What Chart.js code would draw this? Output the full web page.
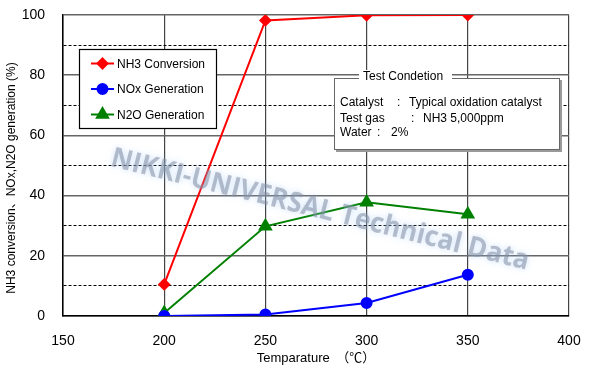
<!DOCTYPE html>
<html>
<head>
<meta charset="utf-8">
<script src="https://cdn.jsdelivr.net/npm/chart.js@4.4.0/dist/chart.umd.min.js"></script>
<style>
  html, body { margin: 0; padding: 0; background: #fff; }
</style>
</head>
<body>
<canvas id="my-chart" width="590" height="375"></canvas>
<script>

let temperatures = [200, 250, 300, 350];
let nh3Conversion = [10.5, 98.2, 99.9, 100];
let noxGeneration = [0, 0.5, 4.3, 13.7];
let n2oGeneration = [1, 29.8, 37.8, 33.8];
let seriesNames = ['NH3 Conversion', 'NOx Generation', 'N2O Generation'];
let yLabelValues = [0, 20, 40, 60, 80, 100];
let xTitle = 'Temparature　（℃）';
let yTitle = 'NH3 conversion、NOx,N2O generation (%)';
let conditionTitle = 'Test Condetion';
let conditionRows = [
    ['Catalyst', ':', 'Typical oxidation catalyst'],
    ['Test gas', ':', 'NH3 5,000ppm'],
    ['Water', ':', '2%']
];
let watermark = 'NIKKI-UNIVERSAL Technical Data';

const FONT = '"Liberation Sans", "Noto Sans CJK JP", sans-serif';

function toPoints(values) {
    let pts = [];
    for (let i = 0; i < temperatures.length; i++) {
        pts.push({ x: temperatures[i], y: values[i] });
    }
    return pts;
}

// legend box, condition box, y title and the watermark
const extras = {
    id: 'extras',
    afterDraw(chart) {
        let ctx = chart.ctx;
        ctx.save();

        // legend inside the plot
        ctx.fillStyle = '#fff';
        ctx.fillRect(79.5, 49.5, 137, 79);
        ctx.strokeStyle = '#000';
        ctx.lineWidth = 1.2;
        ctx.strokeRect(79.5, 49.5, 137, 79);
        chart.data.datasets.forEach((ds, i) => {
            let y = 63.5 + i * 25.5;
            ctx.strokeStyle = ds.borderColor;
            ctx.lineWidth = 2;
            ctx.beginPath();
            ctx.moveTo(91, y);
            ctx.lineTo(114, y);
            ctx.stroke();
            ctx.fillStyle = ds.pointBackgroundColor;
            ctx.strokeStyle = ds.pointBorderColor;
            Chart.helpers.drawPoint(ctx, {
                pointStyle: ds.pointStyle, radius: ds.pointRadius, rotation: 0, borderWidth: 1
            }, 102.5, y);
            ctx.fillStyle = '#000';
            ctx.font = '12px ' + FONT;
            ctx.textBaseline = 'middle';
            ctx.textAlign = 'left';
            ctx.fillText(ds.label, 117, y + 1);
        });

        // test condition box
        ctx.fillStyle = '#9a9a9a';
        ctx.fillRect(336, 80, 226, 72);
        ctx.fillStyle = '#fff';
        ctx.fillRect(334.5, 78.5, 225, 71);
        ctx.strokeStyle = '#666';
        ctx.lineWidth = 1;
        ctx.strokeRect(334.5, 78.5, 225, 71);
        ctx.fillStyle = '#fff';
        ctx.fillRect(359, 70, 93, 10);
        ctx.fillStyle = '#000';
        ctx.font = '12px ' + FONT;
        ctx.textBaseline = 'middle';
        ctx.fillText(conditionTitle, 363, 77);
        let colonX = [397, 411, 377];
        let valueX = [409, 423, 391];
        let rowY = [103, 118.5, 133];
        conditionRows.forEach((row, i) => {
            ctx.fillText(row[0], 340, rowY[i]);
            ctx.fillText(row[1], colonX[i], rowY[i]);
            ctx.fillText(row[2], valueX[i], rowY[i]);
        });

        // y axis title
        ctx.save();
        ctx.translate(12, 178);
        ctx.rotate(-Math.PI / 2);
        ctx.textAlign = 'center';
        ctx.font = '12px ' + FONT;
        ctx.fillText(yTitle, 0, 0);
        ctx.restore();

        // watermark, squeezed sideways to fit its span
        ctx.save();
        ctx.translate(320, 210);
        ctx.rotate(14 * Math.PI / 180);
        ctx.font = 'bold 28px "Open Sans", sans-serif';
        let w = ctx.measureText(watermark).width;
        ctx.scale(430 / w, 1);
        ctx.textAlign = 'center';
        ctx.textBaseline = 'middle';
        ctx.shadowColor = 'rgba(160,200,245,0.95)';
        ctx.shadowBlur = 6;
        ctx.fillStyle = 'rgba(130,140,160,0.55)';
        ctx.fillText(watermark, 0, 0);
        ctx.restore();

        ctx.restore();
    }
};

let ctx = document.getElementById('my-chart').getContext('2d');
let myChart = new Chart(ctx, {
    type: 'line',
    data: {
        datasets: [{
            label: seriesNames[0],
            data: toPoints(nh3Conversion),
            borderColor: '#ff0000',
            backgroundColor: '#ff0000',
            pointBackgroundColor: '#ff0000',
            pointBorderColor: '#ff0000',
            pointStyle: 'rectRot',
            pointRadius: 5,
            borderWidth: 2
        }, {
            label: seriesNames[1],
            data: toPoints(noxGeneration),
            borderColor: '#0000ff',
            backgroundColor: '#0000ff',
            pointBackgroundColor: '#0000ff',
            pointBorderColor: '#0000ff',
            pointStyle: 'circle',
            pointRadius: 5,
            borderWidth: 2
        }, {
            label: seriesNames[2],
            data: toPoints(n2oGeneration),
            borderColor: '#008000',
            backgroundColor: '#008000',
            pointBackgroundColor: '#008000',
            pointBorderColor: '#008000',
            pointStyle: 'triangle',
            pointRadius: 6.5,
            borderWidth: 2
        }]
    },
    options: {
        responsive: false,
        animation: false,
        layout: { padding: { top: 15, right: 21, bottom: 0, left: 0 } },
        plugins: {
            legend: { display: false },
            tooltip: { enabled: false }
        },
        scales: {
            x: {
                type: 'linear',
                min: 150,
                max: 400,
                afterFit: (scale) => {
                    scale.height = 59;
                    scale.paddingLeft = 0;
                    scale.paddingRight = 0;
                },
                ticks: {
                    stepSize: 50,
                    color: '#000',
                    padding: 17,
                    maxRotation: 0,
                    font: { size: 14, family: FONT }
                },
                grid: { color: '#444', lineWidth: 1.2, drawTicks: false, tickLength: 0 },
                border: { color: '#000', width: 1.5 },
                title: {
                    display: true,
                    text: xTitle,
                    color: '#000',
                    font: { size: 13, family: FONT },
                    padding: { top: 0, bottom: 9 }
                }
            },
            y: {
                min: 0,
                max: 100,
                afterFit: (scale) => {
                    scale.width = 63;
                    scale.paddingTop = 0;
                    scale.paddingBottom = 0;
                },
                ticks: {
                    stepSize: 10,
                    color: '#000',
                    padding: 18,
                    font: { size: 14, family: FONT },
                    callback: (v) => yLabelValues.includes(v) ? v : ''
                },
                grid: {
                    drawTicks: false,
                    tickLength: 0,
                    color: (c) => (c.tick && c.tick.value % 20 !== 0) ? '#000' : '#666',
                    lineWidth: (c) => (c.tick && c.tick.value % 20 !== 0) ? 1 : 1.5
                },
                border: {
                    color: '#000',
                    width: 1.5,
                    dash: (c) => (c.tick && c.tick.value % 20 !== 0) ? [3, 2] : []
                }
            }
        }
    },
    plugins: [extras]
});

</script>
</body>
</html>
